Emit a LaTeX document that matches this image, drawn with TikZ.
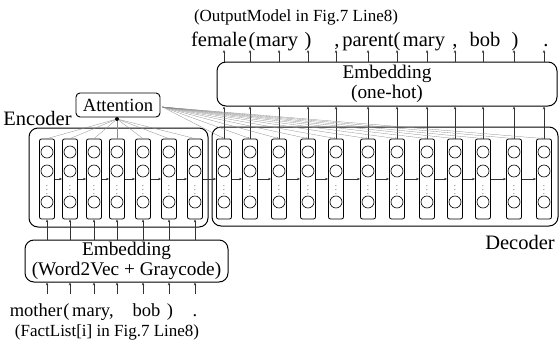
\documentclass[tikz,border=0pt]{standalone}
\usepackage{fontspec}
\setmainfont{Liberation Serif}
\usetikzlibrary{arrows.meta}
\newcommand{\fsz}[1]{\fontsize{#1}{#1}\selectfont}
\begin{document}
\begin{tikzpicture}[x=1pt,y=-1pt,
 cell/.style={draw, rounded corners=2pt, minimum width=15pt, minimum height=80pt, inner sep=0pt, line width=0.8pt},
 unit/.style={draw, circle, minimum size=12pt, inner sep=0pt, line width=0.6pt},
 vd/.style={font=\fsz{7}, inner sep=0pt},
 bigbox/.style={draw, rounded corners=9pt, line width=1pt, inner sep=0pt},
 arr/.style={-{Stealth[length=3pt,width=2.4pt]}, line width=0.4pt, black!80},
 att/.style={line width=0.3pt, black!45},
 attarr/.style={line width=0.3pt, black!45, -{Stealth[length=2.5pt,width=2pt]}},
 tok/.style={font=\fsz{20.5}, anchor=base, inner sep=0pt},
 itok/.style={font=\fsz{18.5}, anchor=base, inner sep=0pt},
 lab/.style={font=\fsz{20.5}, anchor=base, inner sep=0pt},
 note/.style={font=\fsz{17}, anchor=base, inner sep=0pt},
]
\useasboundingbox (0,0) rectangle (560,348);

% big boxes
\node[bigbox, minimum width=179pt, minimum height=99pt] (enc) at (118.5,177.5) {};
\node[bigbox, minimum width=346pt, minimum height=99pt] (dec) at (385,176.5) {};
\node[bigbox, minimum width=340pt, minimum height=44pt, align=center, font=\fsz{19.3}] (emb1) at (387,84) {Embedding\\[0pt](one-hot)};
\node[bigbox, minimum width=203pt, minimum height=42pt, align=center, font=\fsz{19.3}] (emb2) at (126.5,261) {Embedding\\[0pt](Word2Vec + Graycode)};
\node[draw, rounded corners=4pt, line width=0.9pt, minimum width=84pt, minimum height=24pt, inner sep=0pt, font=\fsz{18.6}] (att) at (118,105) {Attention};
\node[circle, fill, inner sep=0pt, minimum size=4pt] (dot) at (117,119) {};

\node[lab] (enclbl) at (37.5,125) {Encoder};
\node[lab] (declbl) at (520,249) {Decoder};

% encoder cells
\foreach \x [count=\i] in {47,70,94,117,143,169,195} {
  \node[cell] (e\i) at (\x,179) {};
  \node[unit] (e\i-a) at (\x,152) {};
  \node[unit] (e\i-b) at (\x,171) {};
  \node[vd] (e\i-d) at (\x,187) {$\vdots$};
  \node[unit] (e\i-c) at (\x,202) {};
  \draw[att] (dot) -- (e\i.north);
  \draw[arr] (e\i.south |- emb2.north) -- (e\i.south);
  \coordinate (in\i) at (\x,294);
  \draw[arr] (in\i) -- (in\i |- emb2.south);
}

% decoder cells
\foreach \x [count=\i] in {224,250,279,308,336,368,397,427,455,483,514,544} {
  \node[cell] (d\i) at (\x,179) {};
  \node[unit] (d\i-a) at (\x,152) {};
  \node[unit] (d\i-b) at (\x,171) {};
  \node[vd] (d\i-d) at (\x,187) {$\vdots$};
  \node[unit] (d\i-c) at (\x,202) {};
  \draw[attarr] ([shift={(2pt,-2pt)}]att.east) -- (d\i.north);
  \draw[arr] (d\i.north) -- (d\i.north |- emb1.south);
  \coordinate (out\i) at (\x,50);
  \draw[arr] (out\i |- emb1.north) -- (out\i);
}

% recurrent arrows
\foreach \i [evaluate=\i as \j using int(\i+1)] in {1,...,6} {
  \draw[arr] (e\i) -- (e\j);
}
\draw[arr] (e7) -- (d1);
\foreach \i [evaluate=\i as \j using int(\i+1)] in {1,...,11} {
  \draw[arr] (d\i) -- (d\j);
}

% output tokens
\node[note] (outnote) at (296,21) {(OutputModel in Fig.7 Line8)};
\node[tok] (o1) at (219,46) {female};
\node[tok] (o2) at (252,46) {(};
\node[tok] (o3) at (277,46) {mary};
\node[tok] (o4) at (308,46) {)};
\node[tok] (o5) at (337,46) {,};
\node[tok] (o6) at (368,46) {parent};
\node[tok] (o7) at (397,46) {(};
\node[tok] (o8) at (424,46) {mary};
\node[tok] (o9) at (455,46) {,};
\node[tok] (o10) at (485,46) {bob};
\node[tok] (o11) at (515,46) {)};
\node[tok] (o12) at (546,46) {.};

% input tokens
\node[itok] (i1) at (36,316) {mother};
\node[itok] (i2) at (66.5,316) {(};
\node[itok, anchor=base west] (i3) at (72,316) {mary,};
\node[itok] (i4) at (146.5,316) {bob};
\node[itok] (i5) at (170,316) {)};
\node[itok] (i6) at (195,316) {.};
\node[note] (innote) at (107,336) {(FactList[i] in Fig.7 Line8)};
\end{tikzpicture}
\end{document}
